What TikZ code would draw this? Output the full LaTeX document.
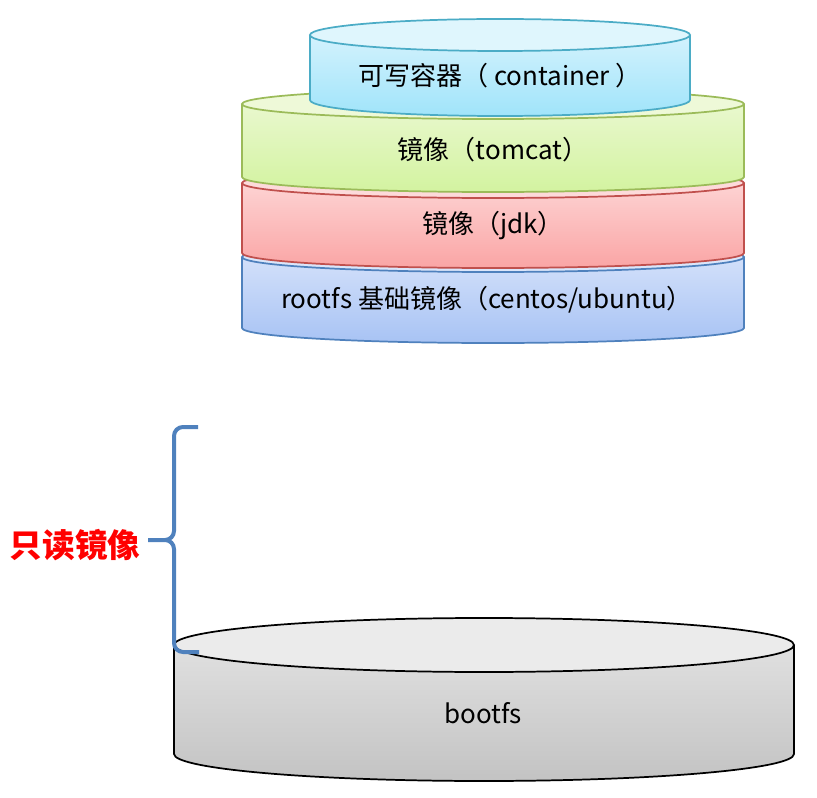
\documentclass[tikz,border=0pt]{standalone}
\usepackage{fontspec}
\setmainfont{Noto Sans CJK SC}
\usetikzlibrary{positioning}
\definecolor{contedge}{HTML}{4BACC6}
\definecolor{contlid}{HTML}{DFF6FD}
\definecolor{conthi}{HTML}{D3F2FD}
\definecolor{contlo}{HTML}{A0E4FA}
\definecolor{tomedge}{HTML}{9BBB59}
\definecolor{tomlid}{HTML}{EEF9D8}
\definecolor{tomhi}{HTML}{E9F8CE}
\definecolor{tomlo}{HTML}{D3F3A0}
\definecolor{jdkedge}{HTML}{C0504D}
\definecolor{jdklid}{HTML}{FDDADA}
\definecolor{jdkhi}{HTML}{FDD3D3}
\definecolor{jdklo}{HTML}{FAA5A5}
\definecolor{rootedge}{HTML}{4F81BD}
\definecolor{rootlid}{HTML}{DCE6FA}
\definecolor{roothi}{HTML}{D3E0FA}
\definecolor{rootlo}{HTML}{A8C3F4}
\definecolor{bootedge}{HTML}{000000}
\definecolor{bootlid}{HTML}{EBEBEB}
\definecolor{boothi}{HTML}{E0E0E0}
\definecolor{bootlo}{HTML}{C3C3C3}
\definecolor{bracecol}{HTML}{4F81BD}
\tikzset{
    layertext/.style = {font=\fontsize{19.5}{22}\selectfont, text=black},
    readonly/.style = {font=\fontsize{24.5}{27}\selectfont\bfseries, text=red},
    brace/.style = {draw=bracecol, line width=3pt},
}
% cylinder: centre x, half width, top y, bottom y, y radius, colour prefix
\newcommand\drum[6]{%
    \shade[top color=#6hi, bottom color=#6lo] (#1-#2,#3) -- (#1-#2,#4) arc[start angle=180, end angle=0, x radius=#2, y radius=#5] -- (#1+#2,#3) -- cycle;
    \draw[#6edge, line width=1.3pt] (#1-#2,#3) -- (#1-#2,#4) arc[start angle=180, end angle=0, x radius=#2, y radius=#5] -- (#1+#2,#3);
    \draw[#6edge, line width=1.3pt, fill=#6lid] (#1,#3) ellipse[x radius=#2, y radius=#5];
}
\begin{document}
\begin{tikzpicture}[x=0.75pt, y=-0.75pt]
    \useasboundingbox (0,0) rectangle (817,798);
    % stacked images
    \drum{493}{251}{257}{328}{15}{root}
    \drum{493}{251}{183}{253}{15}{jdk}
    \drum{493}{251}{104}{177}{15}{tom}
    \drum{500}{190}{35}{100}{16}{cont}
    \node [layertext] (container) at (500,76) {可写容器（ container ）};
    \node [layertext] (tomcat) at (493,150) {镜像（tomcat）};
    \node [layertext] (jdk) at (493,226) {镜像（jdk）};
    \node [layertext] (rootfs) at (487,300) {rootfs 基础镜像（centos/ubuntu）};
    % boot layer
    \drum{484}{310}{645}{754}{27}{boot}
    \node [layertext] (bootfs) at (483,713) {bootfs};
    % brace
    \node [readonly] (ro) at (75,545) {只读镜像};
    \coordinate (bt) at (198,427);
    \coordinate (bb) at (199,652);
    \coordinate (tip) at (148,540);
    \draw [brace] (bt) -- (183,427) to[out=180,in=90] (174,436) -- (174,531) to[out=-90,in=0] (165,540) -- (tip);
    \draw [brace] (165,540) to[out=0,in=90] (174,549) -- (174,643) to[out=-90,in=180] (183,652) -- (bb);
\end{tikzpicture}
\end{document}
